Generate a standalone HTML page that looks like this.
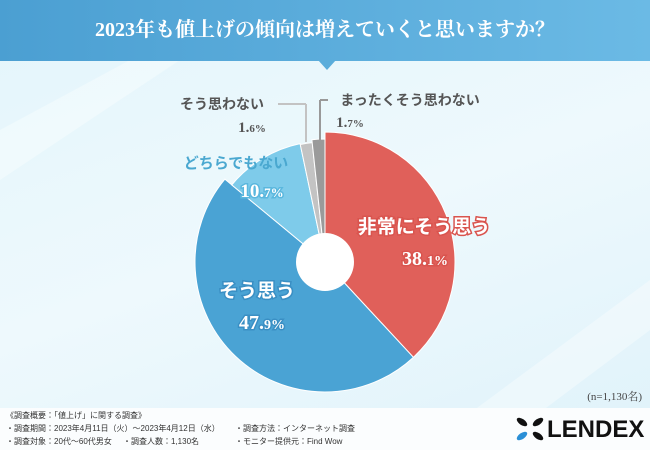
<!DOCTYPE html>
<html><head><meta charset="utf-8"><style>
body{margin:0;width:650px;height:450px;overflow:hidden;font-family:"Liberation Sans","Noto Sans CJK JP",sans-serif;}
#wrap{position:relative;width:650px;height:450px;background:linear-gradient(160deg,#e3f5fb 0%,#eef9fd 50%,#dff2fa 100%);}
#hdr{position:absolute;left:0;top:0;width:650px;height:61px;background:linear-gradient(90deg,#4b9fd2,#6bbae5);color:#fff;font-size:20px;font-weight:bold;text-align:center;line-height:60px;font-family:"Liberation Serif","Noto Serif CJK SC",serif;}
#foot{position:absolute;left:0;top:408px;width:650px;height:42px;background:#fbfdfe;}
.ft{position:absolute;font-size:8px;color:#333;white-space:nowrap;}
</style></head><body>
<div id="wrap">
<svg width="650" height="450" style="position:absolute;left:0;top:0">
<polygon points="0,130 130,60 180,60 0,180" fill="#fff" opacity="0.35"/>
<polygon points="420,450 650,280 650,330 490,450" fill="#fff" opacity="0.35"/>
</svg>
<div id="hdr">2023年も値上げの傾向は増えていくと思いますか？</div>
<svg width="650" height="450" style="position:absolute;left:0;top:0" id="chart">
<polygon points="318,60 336,60 327,70" fill="#5aaddb"/>
<g id="pie"></g>
<line x1="278" y1="104" x2="306" y2="104" stroke="#c3c3c3" stroke-width="2"/>
<line x1="306" y1="104" x2="306" y2="142" stroke="#c3c3c3" stroke-width="2"/>
<line x1="320" y1="100" x2="328" y2="100" stroke="#999" stroke-width="2"/>
<line x1="320" y1="100" x2="320" y2="140" stroke="#999" stroke-width="2"/>
<circle cx="325" cy="262" r="29" fill="#fff"/>
<g font-weight="bold" font-family="Liberation Sans,Noto Sans CJK JP,sans-serif">
<text x="424" y="233" font-size="19" text-anchor="middle" fill="#fff" stroke="#d9544e" stroke-width="3" paint-order="stroke">非常にそう思う</text>
<text x="257" y="297" font-size="19" text-anchor="middle" fill="#fff" stroke="#3a8fc4" stroke-width="3" paint-order="stroke">そう思う</text>
<text x="236" y="168" font-size="15" text-anchor="middle" fill="#4aa8d0">どちらでもない</text>
<text x="222" y="109" font-size="14" text-anchor="middle" fill="#555">そう思わない</text>
<text x="410" y="105" font-size="14" text-anchor="middle" fill="#555">まったくそう思わない</text>
</g>
<g font-weight="bold" font-family="Liberation Serif,Noto Serif CJK SC,serif">
<text x="425" y="265" font-size="20" text-anchor="middle" fill="#fff" stroke="#d9544e" stroke-width="3" paint-order="stroke">38.<tspan font-size="14">1%</tspan></text>
<text x="262" y="329" font-size="20" text-anchor="middle" fill="#fff" stroke="#3a8fc4" stroke-width="3" paint-order="stroke">47.<tspan font-size="14">9%</tspan></text>
<text x="262" y="197" font-size="19" text-anchor="middle" fill="#fff" stroke="#5ab7de" stroke-width="3" paint-order="stroke">10.<tspan font-size="13">7%</tspan></text>
<text x="252" y="132" font-size="15" text-anchor="middle" fill="#555">1.<tspan font-size="11">6%</tspan></text>
<text x="350" y="127" font-size="15" text-anchor="middle" fill="#555">1.<tspan font-size="11">7%</tspan></text>
<text x="642" y="400" font-size="11" font-weight="normal" text-anchor="end" fill="#444">(n=1,130名)</text>
</g>
</svg>
<div id="foot"></div>
<div class="ft" style="left:6px;top:410px">《調査概要：「値上げ」に関する調査》</div>
<div class="ft" style="left:6px;top:423px">・調査期間：2023年4月11日（火）～2023年4月12日（水）</div>
<div class="ft" style="left:235px;top:423px">・調査方法：インターネット調査</div>
<div class="ft" style="left:6px;top:436px">・調査対象：20代～60代男女</div>
<div class="ft" style="left:123px;top:436px">・調査人数：1,130名</div>
<div class="ft" style="left:235px;top:436px">・モニター提供元：Find Wow</div>
<div style="position:absolute;left:514px;top:416px;width:125px;height:30px">
<svg width="34" height="28" style="position:absolute;left:0;top:0">
<ellipse cx="8" cy="6" rx="6" ry="3" transform="rotate(35 8 6)" fill="#111"/>
<ellipse cx="24" cy="6" rx="6" ry="3" transform="rotate(-35 24 6)" fill="#111"/>
<ellipse cx="8" cy="20" rx="6" ry="3" transform="rotate(-35 8 20)" fill="#2a8fd6"/>
<ellipse cx="24" cy="20" rx="6" ry="3" transform="rotate(35 24 20)" fill="#111"/>
</svg>
<div style="position:absolute;left:33px;top:0;font-size:24px;font-weight:bold;color:#111;line-height:28px">LENDEX</div>
</div>
</div>
<script>
const categories=["非常にそう思う","そう思う","どちらでもない","そう思わない","まったくそう思わない"];
const values=[38.1,47.9,10.7,1.6,1.7];
const colors=["#e0605a","#4aa3d4","#7ecbea","#c3c3c3","#9a9a9a"];
const radii=[130,130,121,120,123];
const cx=325,cy=262;
const g=document.getElementById('pie');
const total=values.reduce((a,b)=>a+b,0);
function pt(a,r){return [cx+r*Math.sin(a),cy-r*Math.cos(a)];}
let a0=0;
values.forEach((v,i)=>{
 const a1=a0+v/total*2*Math.PI;
 const r=radii[i];
 const p0=pt(a0,r),p1=pt(a1,r);
 const large=(a1-a0)>Math.PI?1:0;
 const path=document.createElementNS('http://www.w3.org/2000/svg','path');
 path.setAttribute('d',`M${cx},${cy} L${p0[0]},${p0[1]} A${r},${r} 0 ${large} 1 ${p1[0]},${p1[1]} Z`);
 path.setAttribute('fill',colors[i]);
 path.setAttribute('stroke','#fff');
 path.setAttribute('stroke-width','1');
 
 
 g.appendChild(path);
 a0=a1;
});
</script>
</body></html>
